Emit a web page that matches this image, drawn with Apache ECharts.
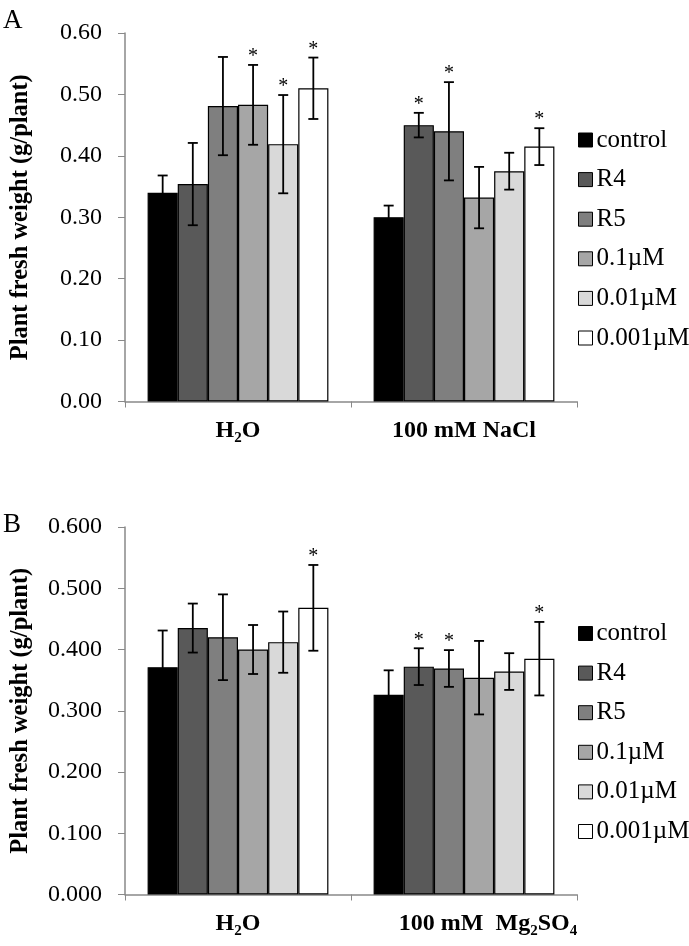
<!DOCTYPE html>
<html>
<head>
<meta charset="utf-8">
<script src="https://cdn.jsdelivr.net/npm/echarts@6/dist/echarts.min.js"></script>
<style>html,body{margin:0;padding:0;background:#fff}#c{width:689px;height:946px}</style>
</head>
<body>
<div id="c"></div>
<script>
// ---- data ----
const seriesNames = ['control', 'R4', 'R5', '0.1\u00b5M', '0.01\u00b5M', '0.001\u00b5M'];
const seriesColors = ['#000000', '#595959', '#7f7f7f', '#a6a6a6', '#d9d9d9', '#ffffff'];

const categoriesA = ['H2O', '100 mM NaCl'];
const meansA_H2O  = [0.340, 0.354, 0.481, 0.483, 0.419, 0.510];
const errA_H2O    = [0.028, 0.067, 0.080, 0.065, 0.080, 0.050];
const starsA_H2O  = [0, 0, 0, 1, 1, 1];
const meansA_NaCl = [0.300, 0.450, 0.440, 0.332, 0.375, 0.415];
const errA_NaCl   = [0.019, 0.020, 0.080, 0.050, 0.030, 0.030];
const starsA_NaCl = [0, 1, 1, 0, 0, 1];

const categoriesB = ['H2O', '100 mM  Mg2SO4'];
const meansB_H2O  = [0.371, 0.435, 0.420, 0.400, 0.412, 0.468];
const errB_H2O    = [0.060, 0.040, 0.070, 0.040, 0.050, 0.070];
const starsB_H2O  = [0, 0, 0, 0, 0, 1];
const meansB_Mg   = [0.326, 0.372, 0.369, 0.354, 0.364, 0.385];
const errB_Mg     = [0.040, 0.030, 0.030, 0.060, 0.030, 0.060];
const starsB_Mg   = [0, 1, 1, 0, 0, 1];

const yTicksA = ['0.00', '0.10', '0.20', '0.30', '0.40', '0.50', '0.60'];
const yTicksB = ['0.000', '0.100', '0.200', '0.300', '0.400', '0.500', '0.600'];
const yName = 'Plant fresh weight (g/plant)';

// ---- chart ----
const FONT = 'Liberation Serif, Times New Roman, serif';
const AXIS_COLOR = '#898989';
const GAP = 0.2;

function catFormatter(v) {
  const body = v.replace(/([A-Za-z])(\d)/g, '$1}{s|$2}{b|');
  const pad = v.indexOf('Mg') >= 0 ? '{p|}' : '';
  return pad + '{b|' + body + '}';
}

function makeAxes(gridIndex, ticks, cats) {
  const x = {
    type: 'category', gridIndex: gridIndex, data: cats,
    axisLine: { lineStyle: { color: AXIS_COLOR, width: 1.5 } },
    axisTick: { show: true, length: 6, interval: 0, lineStyle: { color: AXIS_COLOR } },
    axisLabel: {
      margin: 14, interval: 0, formatter: catFormatter,
      rich: {
        b: { fontFamily: FONT, fontWeight: 'bold', fontSize: 24, color: '#000', lineHeight: 30, verticalAlign: 'middle' },
        s: { fontFamily: FONT, fontWeight: 'bold', fontSize: 15, color: '#000', lineHeight: 16, verticalAlign: 'bottom' },
        p: { width: 48, lineHeight: 30 }
      }
    }
  };
  const y = {
    type: 'value', gridIndex: gridIndex, min: 0, max: 0.6, interval: 0.1,
    name: yName, nameLocation: 'middle', nameGap: 92, nameRotate: 90,
    nameTextStyle: { fontFamily: FONT, fontWeight: 'bold', fontSize: 24.5, color: '#000' },
    axisLine: { show: true, lineStyle: { color: AXIS_COLOR, width: 1.5 } },
    axisTick: { show: true, length: 7, lineStyle: { color: AXIS_COLOR } },
    splitLine: { show: false },
    axisLabel: {
      margin: 23, fontFamily: FONT, fontSize: 24, color: '#000',
      formatter: function (v) { return ticks[Math.round(v * 10)]; }
    }
  };
  return [x, y];
}

function errSeries(axisIndex, cat0m, cat0e, cat0s, cat1m, cat1e, cat1s) {
  const data = [];
  for (let i = 0; i < seriesNames.length; i++) {
    data.push([0, cat0m[i], cat0e[i], cat0s[i], i]);
    data.push([1, cat1m[i], cat1e[i], cat1s[i], i]);
  }
  return {
    type: 'custom', xAxisIndex: axisIndex, yAxisIndex: axisIndex, z: 5,
    silent: true, encode: { x: 0, y: 1 }, data: data,
    renderItem: function (params, api) {
      const c = api.value(0), m = api.value(1), e = api.value(2), st = api.value(3), s = api.value(4);
      const band = api.size([1, 0])[0];
      const bw = band * (1 - GAP) / seriesNames.length;
      const p = api.coord([c, m]);
      const x = p[0] - band * (1 - GAP) / 2 + (s + 0.5) * bw;
      const yt = api.coord([c, m + e])[1];
      const yb = api.coord([c, m - e])[1];
      const cap = 5;
      const ls = { stroke: '#000', lineWidth: 1.8 };
      const ch = [
        { type: 'line', shape: { x1: x, y1: yt, x2: x, y2: yb }, style: ls },
        { type: 'line', shape: { x1: x - cap, y1: yt, x2: x + cap, y2: yt }, style: ls },
        { type: 'line', shape: { x1: x - cap, y1: yb, x2: x + cap, y2: yb }, style: ls }
      ];
      if (st) {
        ch.push({ type: 'text', style: { text: '*', x: x, y: yt + 2, textAlign: 'center', textVerticalAlign: 'bottom',
          font: '20px ' + FONT, fill: '#000' } });
      }
      return { type: 'group', children: ch };
    }
  };
}

function barSeries(axisIndex, cat0, cat1) {
  return seriesNames.map(function (n, i) {
    return {
      type: 'bar', name: n, xAxisIndex: axisIndex, yAxisIndex: axisIndex,
      data: [cat0[i], cat1[i]], barGap: '0%', barCategoryGap: (GAP * 100) + '%',
      itemStyle: { color: seriesColors[i], borderColor: '#000', borderWidth: 1.2 },
      silent: true
    };
  });
}

const axA = makeAxes(0, yTicksA, categoriesA);
const axB = makeAxes(1, yTicksB, categoriesB);

const legendBase = {
  orient: 'vertical', left: 578, padding: 0, itemWidth: 14, itemHeight: 14, itemGap: 14.6, icon: 'rect',
  selectedMode: false, data: seriesNames,
  itemStyle: { borderColor: '#000', borderWidth: 1 },
  textStyle: { fontFamily: FONT, fontSize: 25, color: '#000', lineHeight: 25, padding: [0, 0, 0, -1] }
};

const option = {
  animation: false,
  backgroundColor: '#fff',
  textStyle: { fontFamily: FONT },
  grid: [
    { left: 123, right: 112, top: 33, height: 368.5 },
    { left: 123, right: 112, top: 527, height: 367.5 }
  ],
  xAxis: [axA[0], axB[0]],
  yAxis: [axA[1], axB[1]],
  legend: [
    Object.assign({}, legendBase, { top: 127.5 }),
    Object.assign({}, legendBase, { top: 621 })
  ],
  graphic: [
    { type: 'text', left: 3, top: 7, style: { text: 'A', font: '27px ' + FONT, fill: '#000' } },
    { type: 'text', left: 3, top: 511, style: { text: 'B', font: '27px ' + FONT, fill: '#000' } }
  ],
  series: [].concat(
    barSeries(0, meansA_H2O, meansA_NaCl),
    [errSeries(0, meansA_H2O, errA_H2O, starsA_H2O, meansA_NaCl, errA_NaCl, starsA_NaCl)],
    barSeries(1, meansB_H2O, meansB_Mg),
    [errSeries(1, meansB_H2O, errB_H2O, starsB_H2O, meansB_Mg, errB_Mg, starsB_Mg)]
  )
};

const chart = echarts.init(document.getElementById('c'), null, { renderer: 'canvas' });
chart.setOption(option);
</script>
</body>
</html>
